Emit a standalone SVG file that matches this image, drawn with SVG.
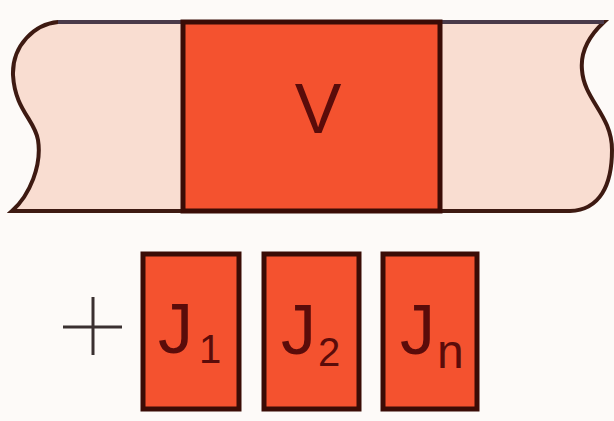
<svg xmlns="http://www.w3.org/2000/svg" width="614" height="421" viewBox="0 0 614 421">
<style>
.red{fill:#f4522f;stroke:#3a0c06;stroke-width:5}
.lbl{font-family:"Liberation Sans",Arial,sans-serif;fill:#5a0c0a}
</style>
<rect width="614" height="421" fill="#fdfaf8"/>
<g id="strip">
<path d="M58,22 L604,22 C590,35 580,50 582,70 C584,100 612,115 612,150 C612,185 600,210 570,211 L12,211 C30,195 42,165 38,140 C35,120 15,110 13,75 C12,45 35,24 58,22 Z" fill="#f9ddd1" stroke="#3e1a12" stroke-width="4"/>
<line x1="58" y1="22" x2="604" y2="22" stroke="#4a3a4a" stroke-width="4"/>
</g>
<g id="V">
<rect x="183" y="22" width="257" height="189" class="red"/>
<text x="318" y="133" font-size="70" text-anchor="middle" class="lbl">V</text>
</g>
<g id="plus">
<line x1="63" y1="327" x2="122" y2="327" stroke="#3a3030" stroke-width="3"/>
<line x1="93" y1="297" x2="93" y2="355" stroke="#3a3030" stroke-width="3"/>
</g>
<g id="J1">
<rect x="143" y="254" width="96" height="155" class="red"/>
<text x="158" y="353" font-size="70" class="lbl">J<tspan font-size="40" dx="6" dy="10">1</tspan></text>
</g>
<g id="J2">
<rect x="264" y="254" width="95" height="155" class="red"/>
<text x="281" y="354" font-size="70" class="lbl">J<tspan font-size="40" dx="2" dy="12">2</tspan></text>
</g>
<g id="Jn">
<rect x="383" y="254" width="94" height="155" class="red"/>
<text x="400" y="354" font-size="70" class="lbl">J<tspan font-size="48" dx="2" dy="14">n</tspan></text>
</g>
<g id="connectors"/>
</svg>
